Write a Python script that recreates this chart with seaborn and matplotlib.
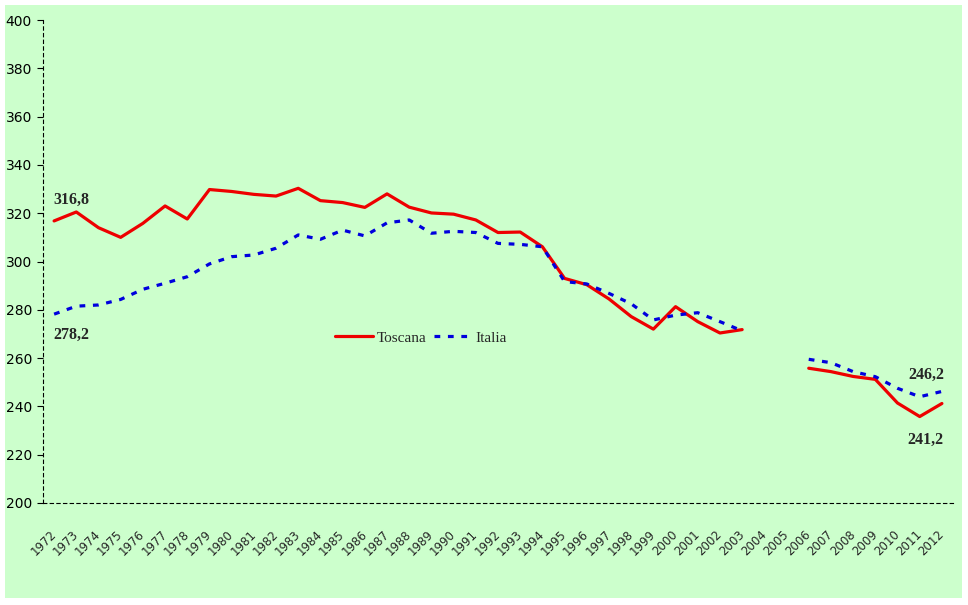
import matplotlib
matplotlib.use("Agg")
import matplotlib.pyplot as plt
import matplotlib.transforms as mtransforms
from matplotlib.lines import Line2D
from matplotlib.patches import Rectangle
import numpy as np
import pandas as pd
import seaborn as sns

nan = np.nan
years = list(range(1972, 2013))
toscana = [316.8, 320.5, 314.0, 310.0, 315.8, 323.0, 317.6, 329.8, 329.0, 327.8,
           327.1, 330.3, 325.2, 324.4, 322.4, 328.0, 322.5, 320.1, 319.6, 317.2,
           312.0, 312.2, 306.1, 293.0, 290.4, 284.5, 277.2, 272.0, 281.3, 275.1,
           270.4, 271.8, nan, nan, 255.8, 254.4, 252.4, 251.2, 241.4, 235.8, 241.2]
italia = [278.2, 281.5, 282.0, 284.3, 288.5, 291.0, 293.7, 299.0, 302.0, 302.7,
          305.5, 311.0, 309.2, 313.0, 310.6, 316.0, 317.2, 311.7, 312.5, 312.0,
          307.5, 307.1, 306.1, 291.7, 290.7, 286.8, 282.5, 275.8, 277.8, 278.8,
          275.1, 271.3, nan, nan, 259.5, 258.1, 254.4, 252.3, 247.5, 244.0, 246.2]
series_names = ["Toscana", "Italia"]
colors = {"Toscana": "#ee0000", "Italia": "#0000dd"}

# long table, one "segment" per unbroken run of values (gap 2004-2005)
rows = []
for name, vals in zip(series_names, [toscana, italia]):
    seg = 0
    for yr, v in zip(years, vals):
        if np.isnan(v):
            seg = 1
            continue
        rows.append({"anno": yr, "valore": v, "serie": name, "tratto": seg})
df = pd.DataFrame(rows)

sns.set_style("white")
plt.rcParams["font.family"] = ["DejaVu Sans"]

fig = plt.figure(figsize=(9.68, 6.05), dpi=100, facecolor="white")
fig.patches.append(Rectangle((5 / 968, 7 / 605), 957 / 968, 593 / 605,
                             transform=fig.transFigure, facecolor="#ccffcc",
                             edgecolor="none", zorder=-10))
ax = fig.add_axes([43 / 968, 1 - 503 / 605, 910 / 968, 483 / 605])
ax.set_zorder(5)
ax.set_facecolor("none")

for name in series_names:
    ls = "-" if name == "Toscana" else (0, (1.8, 2.4))
    sns.lineplot(data=df[df.serie == name], x="anno", y="valore", units="tratto",
                 estimator=None, color=colors[name], linewidth=2.3,
                 linestyle=ls, legend=False, ax=ax)

ax.set_xlim(1971.5, 2012.5)
ax.set_ylim(200, 400)
ax.set_yticks(range(200, 401, 20))
ax.set_xticks(years)
ax.set_xticklabels([str(y) for y in years], rotation=45, ha="right",
                   va="center", rotation_mode="anchor", fontsize=8.5)
shift = mtransforms.ScaledTranslation(-7 / 100, 0, fig.dpi_scale_trans)
for lab in ax.get_xticklabels():
    lab.set_transform(lab.get_transform() + shift)
ax.tick_params(axis="x", length=0, pad=21)
ax.tick_params(axis="y", length=4, width=0.8, pad=4, labelsize=10,
               direction="out", left=True, colors="black")
ax.set_xlabel("")
ax.set_ylabel("")

for side in ["top", "right"]:
    ax.spines[side].set_visible(False)
for side in ["left", "bottom"]:
    ax.spines[side].set_visible(True)
    ax.spines[side].set_color("black")
    ax.spines[side].set_linewidth(0.8)
    ax.spines[side].set_linestyle((0, (3, 3)))

# etichette valori iniziali e finali
lab_font = dict(family="Liberation Serif", fontweight="bold", fontsize=11.5)
ax.annotate("316,8", (years[0], toscana[0]), xytext=(-1, 21),
            textcoords="offset pixels", ha="left", va="center", **lab_font)
ax.annotate("278,2", (years[0], italia[0]), xytext=(-1, -21),
            textcoords="offset pixels", ha="left", va="center", **lab_font)
ax.annotate("246,2", (years[-1], italia[-1]), xytext=(-16, 17),
            textcoords="offset pixels", ha="center", va="center", **lab_font)
ax.annotate("241,2", (years[-1], toscana[-1]), xytext=(-16, -36),
            textcoords="offset pixels", ha="center", va="center", **lab_font)

handles = [Line2D([], [], color=colors["Toscana"], lw=2.3),
           Line2D([], [], color=colors["Italia"], lw=2.3, linestyle=(0, (1.8, 2.4)))]
ax.legend(handles, series_names, loc="center", bbox_to_anchor=(0.415, 0.342),
          ncol=2, frameon=False, handlelength=2.5, handletextpad=0.2,
          columnspacing=0.5, prop={"family": "Liberation Serif", "size": 11})

fig.savefig("out.png", dpi=100, facecolor="white")
